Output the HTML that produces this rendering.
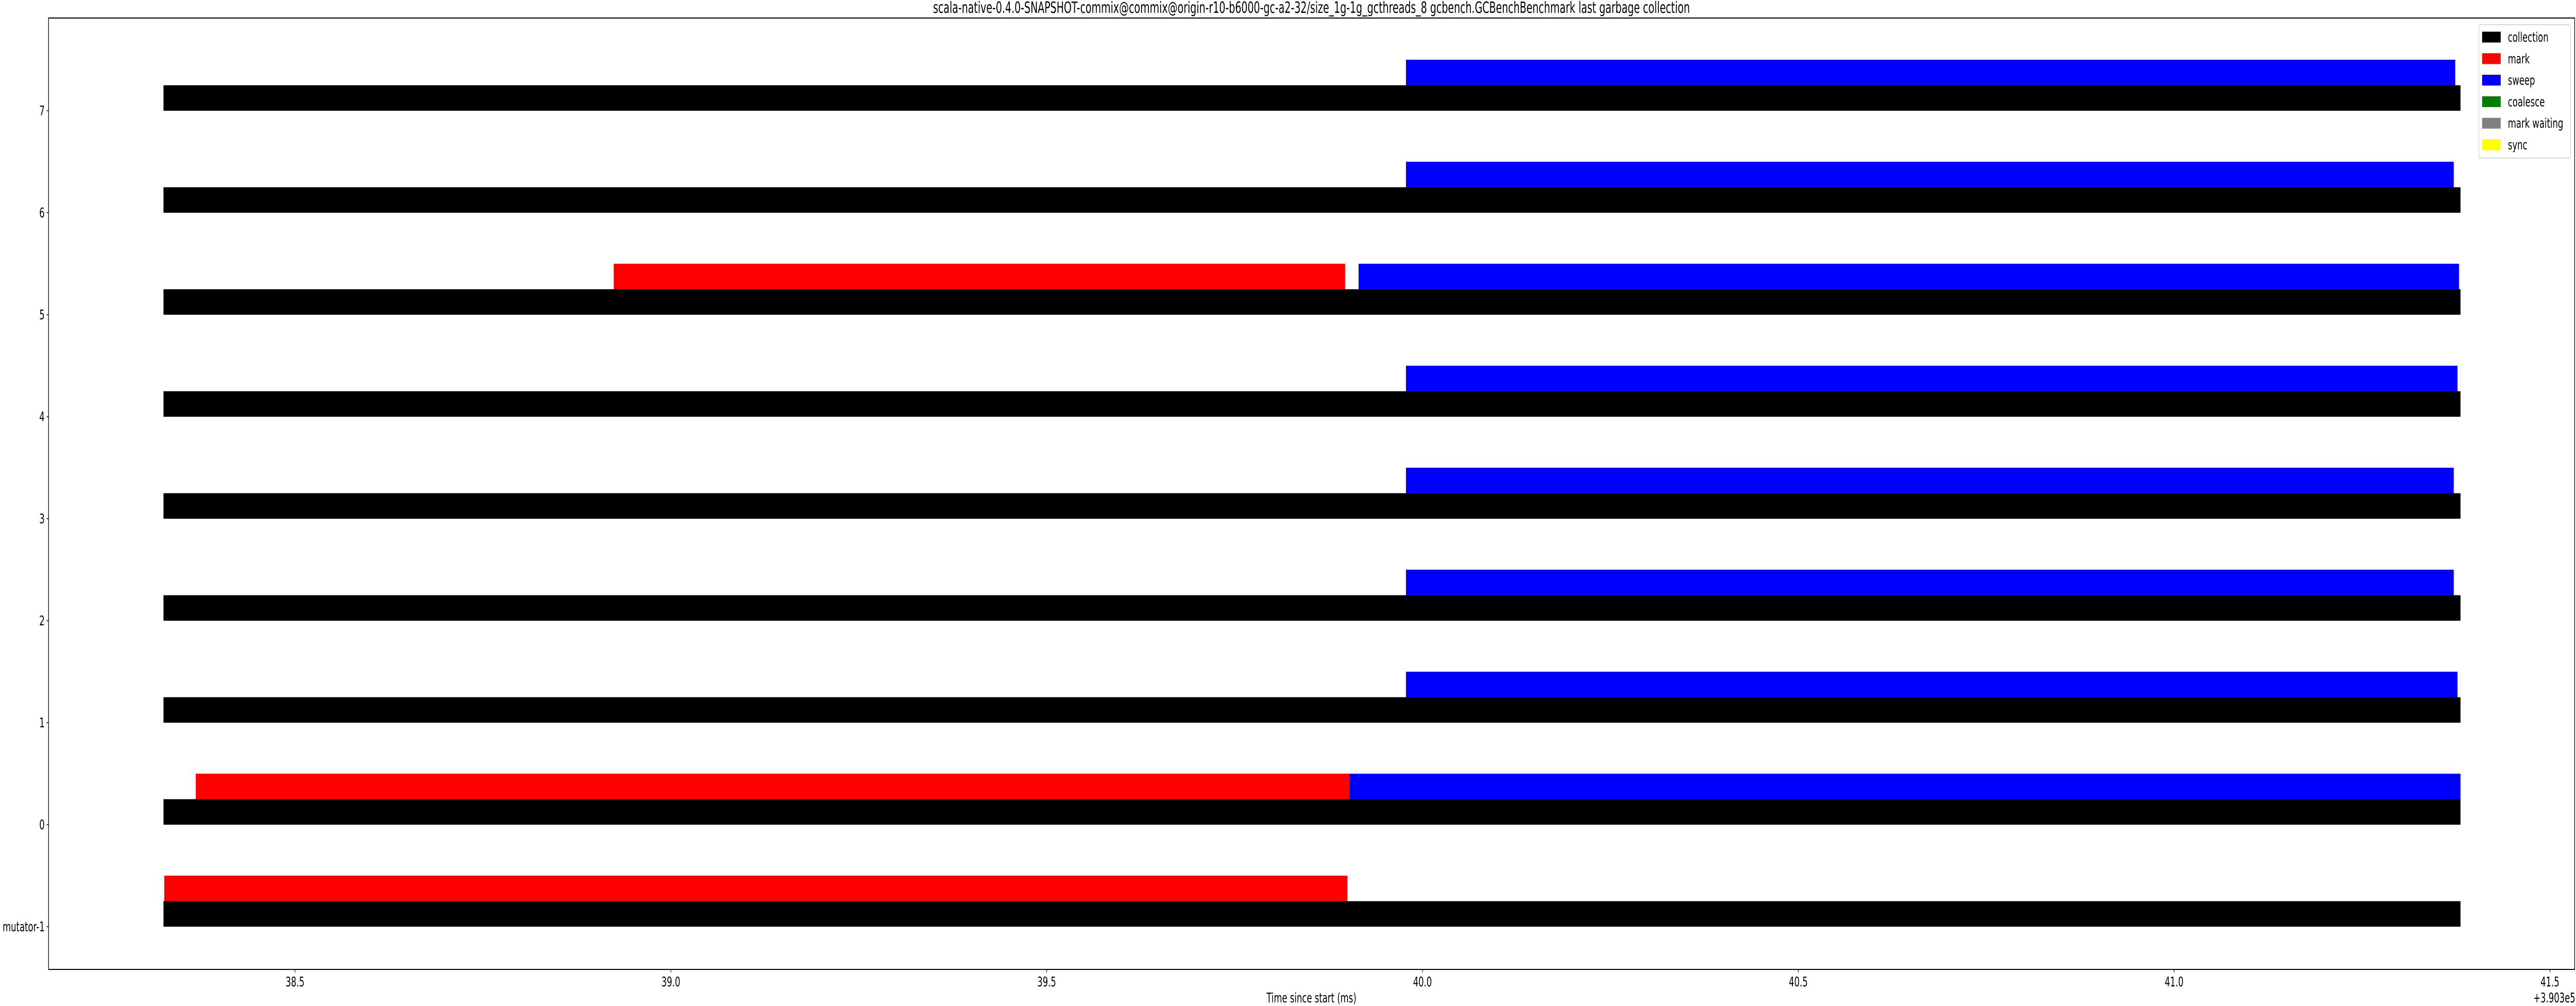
<!DOCTYPE html>
<html><head><meta charset="utf-8">
<style>
html,body{margin:0;padding:0;background:#fff;width:100%;height:100%;overflow:hidden;}
svg{display:block;width:100vw;height:100vh;}
text{font-family:"DejaVu Sans","Liberation Sans",sans-serif;fill:#000;}
</style></head>
<body>
<svg id="chart" viewBox="0 0 7902 1953" preserveAspectRatio="none" xmlns="http://www.w3.org/2000/svg">
<rect x="0" y="0" width="7902" height="1953" fill="#fff"/>
<text x="4023" y="25" font-size="30" text-anchor="middle">scala-native-0.4.0-SNAPSHOT-commix@commix@origin-r10-b6000-gc-a2-32/size_1g-1g_gcthreads_8 gcbench.GCBenchBenchmark last garbage collection</text>
<g id="bars"></g>
<g id="axes"></g>
<text x="4023" y="1946" font-size="26" text-anchor="middle">Time since start (ms)</text>
<text x="7900" y="1946" font-size="26" text-anchor="end">+3.903e5</text>
<g id="legend"></g>
</svg>
<script>
const categories = ["mutator-1","0","1","2","3","4","5","6","7"];
const categoryPos = [-1,0,1,2,3,4,5,6,7];
const collectionStart = [38.325,38.325,38.325,38.325,38.325,38.325,38.325,38.325,38.325];
const collectionEnd   = [41.381,41.381,41.381,41.381,41.381,41.381,41.381,41.381,41.381];
const markStart = [38.326,38.368,null,null,null,null,38.924,null,null];
const markEnd   = [39.900,39.903,null,null,null,null,39.897,null,null];
const sweepStart = [null,39.903,39.978,39.978,39.978,39.978,39.915,39.978,39.978];
const sweepEnd   = [null,41.381,41.377,41.372,41.372,41.377,41.379,41.372,41.374];
const xTicks = [38.5,39.0,39.5,40.0,40.5,41.0,41.5];
const xTickLabels = ["38.5","39.0","39.5","40.0","40.5","41.0","41.5"];
const legendLabels = ["collection","mark","sweep","coalesce","mark waiting","sync"];
const legendColors = ["#000000","#ff0000","#0000ff","#008000","#808080","#ffff00"];

const NS="http://www.w3.org/2000/svg";
const L=149,R=7898,T=35,B=1882;
const xs = v => 905 + (v-38.5)*2305.7;
const ys = v => 611 + (5-v)*198;
const barH = 49.5;
function mk(tag,attrs,parent){const e=document.createElementNS(NS,tag);for(const k in attrs)e.setAttribute(k,attrs[k]);parent.appendChild(e);return e;}

const bars=document.getElementById('bars');
categories.forEach((c,i)=>{
  const yc=ys(categoryPos[i]);
  let r=mk('rect',{x:xs(collectionStart[i]),y:yc-barH,width:xs(collectionEnd[i])-xs(collectionStart[i]),height:barH,fill:'#000'},bars);
  
  
  if(markStart[i]!==null){
    let m=mk('rect',{x:xs(markStart[i]),y:yc-2*barH,width:xs(markEnd[i])-xs(markStart[i]),height:barH,fill:'#f00'},bars);
    
    
  }
  if(sweepStart[i]!==null){
    let s=mk('rect',{x:xs(sweepStart[i]),y:yc-2*barH,width:xs(sweepEnd[i])-xs(sweepStart[i]),height:barH,fill:'#00f'},bars);
    
    
  }
});

const axes=document.getElementById('axes');
let frame=mk('rect',{x:L,y:T,width:R-L,height:B-T,fill:'none',stroke:'#000','stroke-width':2},axes);


categories.forEach((c,i)=>{
  const y=ys(categoryPos[i]);
  mk('line',{x1:L-6,x2:L,y1:y,y2:y,stroke:'#000','stroke-width':1.5},axes);
  let t=mk('text',{x:L-12,y:y+9,'font-size':26,'text-anchor':'end'},axes);
  t.textContent=c;
  
  
});
xTicks.forEach((v,i)=>{
  const x=xs(v);
  mk('line',{x1:x,x2:x,y1:B,y2:B+6,stroke:'#000','stroke-width':1.5},axes);
  let t=mk('text',{x:x,y:B+33,'font-size':26,'text-anchor':'middle'},axes);
  t.textContent=xTickLabels[i];
  
  
});

const lg=document.getElementById('legend');
let box=mk('rect',{x:7604,y:48,width:281,height:259,rx:5,fill:'#fff',stroke:'#ccc','stroke-width':1.5},lg);


legendLabels.forEach((lab,i)=>{
  const cy=72+i*41.8;
  let p=mk('rect',{x:7614,y:cy-10.5,width:57,height:21,fill:legendColors[i]},lg);
  
  
  let t=mk('text',{x:7693,y:cy+9,'font-size':26},lg);
  t.textContent=lab;
  
  
});
</script>
</body></html>
